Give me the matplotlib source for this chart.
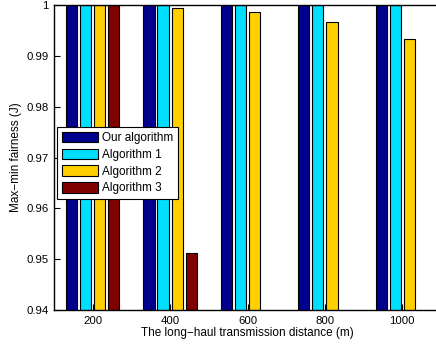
import numpy as np
import matplotlib
matplotlib.use('Agg')
import matplotlib.pyplot as plt

plt.rcParams['font.family'] = ['Liberation Sans', 'DejaVu Sans']

distances = [200, 400, 600, 800, 1000]
series_names = ['Our algorithm', 'Algorithm 1', 'Algorithm 2', 'Algorithm 3']
ours = [1.0, 1.0, 1.0, 1.0, 1.0]
alg1 = [1.0, 1.0, 1.0, 1.0, 1.0]
alg2 = [0.99995, 0.9994, 0.9987, 0.9967, 0.9933]
alg3 = [1.0, 0.9512, 0.93, 0.93, 0.93]
colors = ['#00008F', '#00DFFF', '#FFCF00', '#800000']
yticks = [0.94, 0.95, 0.96, 0.97, 0.98, 0.99, 1.0]
ytick_labels = ['0.94', '0.95', '0.96', '0.97', '0.98', '0.99', '1']

fig = plt.figure(figsize=(4.36, 3.47), dpi=100)
ax = fig.add_axes([54 / 436, 37 / 347, 387 / 436, 305 / 347])

x = np.arange(len(distances))
n = len(series_names)
group_w = min(0.8, n / (n + 1.5))
slot = group_w / n
for i, (name, vals) in enumerate(zip(series_names, [ours, alg1, alg2, alg3])):
    offs = (i - (n - 1) / 2) * slot
    ax.bar(x + offs, vals, width=slot * 0.8, color=colors[i],
           edgecolor='black', linewidth=0.8, label=name)

ax.set_xlim(-0.5, len(distances) - 0.5)
ax.set_ylim(0.94, 1.0)
ax.set_xticks(x)
ax.set_xticklabels([str(d) for d in distances])
ax.set_yticks(yticks)
ax.set_yticklabels(ytick_labels)
ax.tick_params(direction='in', labelsize=8.2, length=4, width=0.8, pad=4)
for s in ax.spines.values():
    s.set_linewidth(1.0)

ax.set_xlabel('The long\u2212haul transmission distance (m)', fontsize=8.5, labelpad=1)
ax.set_ylabel('Max\u2212min fairness (J)', fontsize=8.5, labelpad=3)

leg = ax.legend(loc='upper left', bbox_to_anchor=(57 / 436, 1 - 127 / 347),
                bbox_transform=fig.transFigure, fontsize=8.5, frameon=True,
                fancybox=False, edgecolor='black', framealpha=1,
                handlelength=3.1, handleheight=0.95, labelspacing=0.4,
                borderpad=0.4, handletextpad=0.35, borderaxespad=0)
leg.get_frame().set_linewidth(0.8)

fig.savefig('out.png', dpi=100)
